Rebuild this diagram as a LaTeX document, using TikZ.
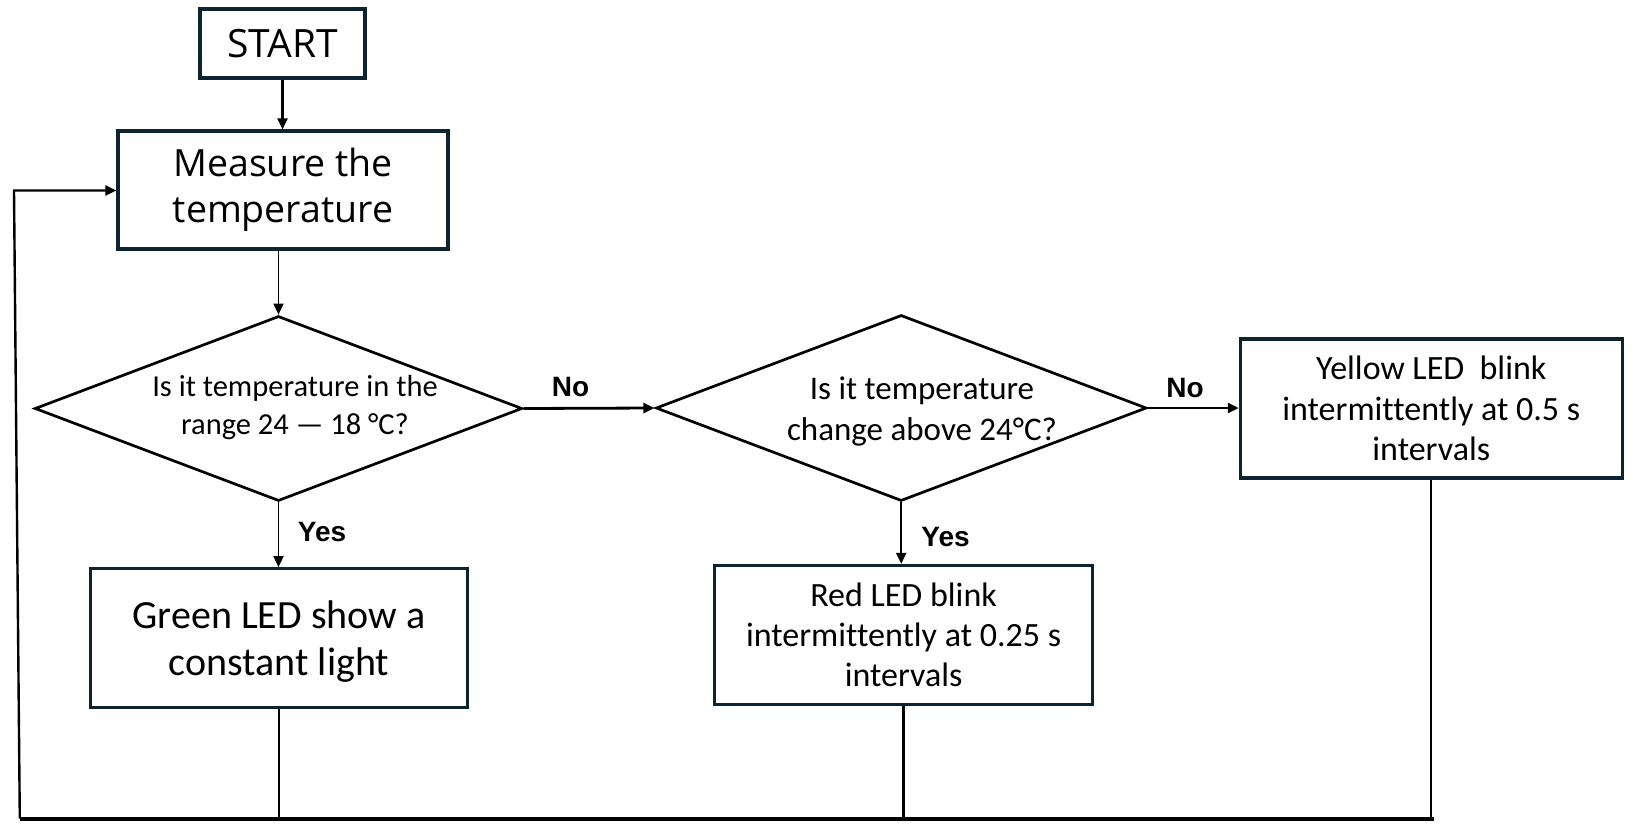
\documentclass[tikz,border=0pt]{standalone}
\usepackage{fontspec}
\setmainfont{Carlito}[Ligatures=NoCommon]
\newfontfamily\dengfont{Open Sans}
\newfontfamily\lblfont{Liberation Sans}
\usetikzlibrary{shapes.geometric,arrows.meta}
\definecolor{boxcol}{RGB}{12,36,50}
\begin{document}
\begin{tikzpicture}[x=1pt,y=-1pt,
  box/.style={draw=boxcol, line width=3.1pt, rectangle, inner sep=0pt, align=center},
  dia/.style={draw=black, line width=2.7pt, diamond, inner sep=0pt},
  conn/.style={draw=black, line width=2.3pt},
  arr/.style={conn, -{Triangle[length=11pt,width=10pt]}},
  lbl/.style={font=\lblfont\bfseries\fontsize{28}{32}\selectfont, inner sep=0pt},
  dtext/.style={align=center, inner sep=0pt}
]
\useasboundingbox (0,0) rectangle (1633,835);

\node[box, minimum width=165pt, minimum height=69pt, font=\dengfont\fontsize{39}{46}\selectfont] (start) at (282.5,43.5) {START};
\node[box, minimum width=330pt, minimum height=118pt, font=\dengfont\fontsize{37.5}{46}\selectfont] (meas) at (283,190) {Measure the\\temperature};

\node[dia, minimum width=487.5pt, minimum height=185pt] (d1) at (278.5,408.5) {};
\node[dtext, font=\fontsize{30.5}{37.5}\selectfont] (d1t) at (295,407.5) {Is it temperature in the\\range 24 — 18 °C?};

\node[dia, minimum width=490.8pt, minimum height=186pt] (d2) at (901.2,408) {};
\node[dtext, font=\fontsize{33}{40.7}\selectfont] (d2t) at (922,411.5) {Is it temperature\\change above 24°C?};

\node[box, minimum width=382pt, minimum height=139pt, font=\fontsize{34}{40.5}\selectfont] (yel) at (1431.3,408.5) {Yellow LED\ \ blink\\intermittently at 0.5 s\\intervals};
\node[box, minimum width=378pt, minimum height=138.7pt, font=\fontsize{34}{40}\selectfont] (red) at (903.6,634.7) {Red LED blink\\intermittently at 0.25 s\\intervals};
\node[box, minimum width=377pt, minimum height=138.6pt, font=\fontsize{40}{47.5}\selectfont] (green) at (279.1,638) {\rule{0pt}{35pt}Green LED show a\\constant light};

\node[lbl] (no1) at (570.5,387.5) {No};
\node[lbl] (no2) at (1185,388.5) {No};
\node[lbl] (yes1) at (322,531.5) {Yes};
\node[lbl] (yes2) at (945.5,536.5) {Yes};

\draw[arr] (start.south) -- (start.south |- meas.north);
\draw[arr, line width=1.7pt] (d1.north |- meas.south) -- (d1.north);
\draw[arr, line width=1.6pt] (d1.south) -- (d1.south |- green.north);
\draw[arr, line width=2.8pt] (d1.east) -- (d2.west);
\draw[arr] (d2.south) -- (d2.south |- red.north);
\draw[arr, line width=2.8pt] (d2.east) -- (d2.east -| yel.west);

\coordinate (bl) at (19.8,818.7);
\coordinate (br) at (1434,818.7);
\coordinate (tl) at (14,190.5);
\draw[conn, line width=1.8pt] (green.south) -- (green.south |- bl);
\draw[conn] (red.south) -- (red.south |- bl);
\draw[conn] (yel.south) -- (yel.south |- bl);
\draw[conn, line width=3.6pt] (bl) -- (br);
\draw[arr, line width=2.4pt] (bl) -- (tl) -- (tl -| meas.west);
\end{tikzpicture}
\end{document}
